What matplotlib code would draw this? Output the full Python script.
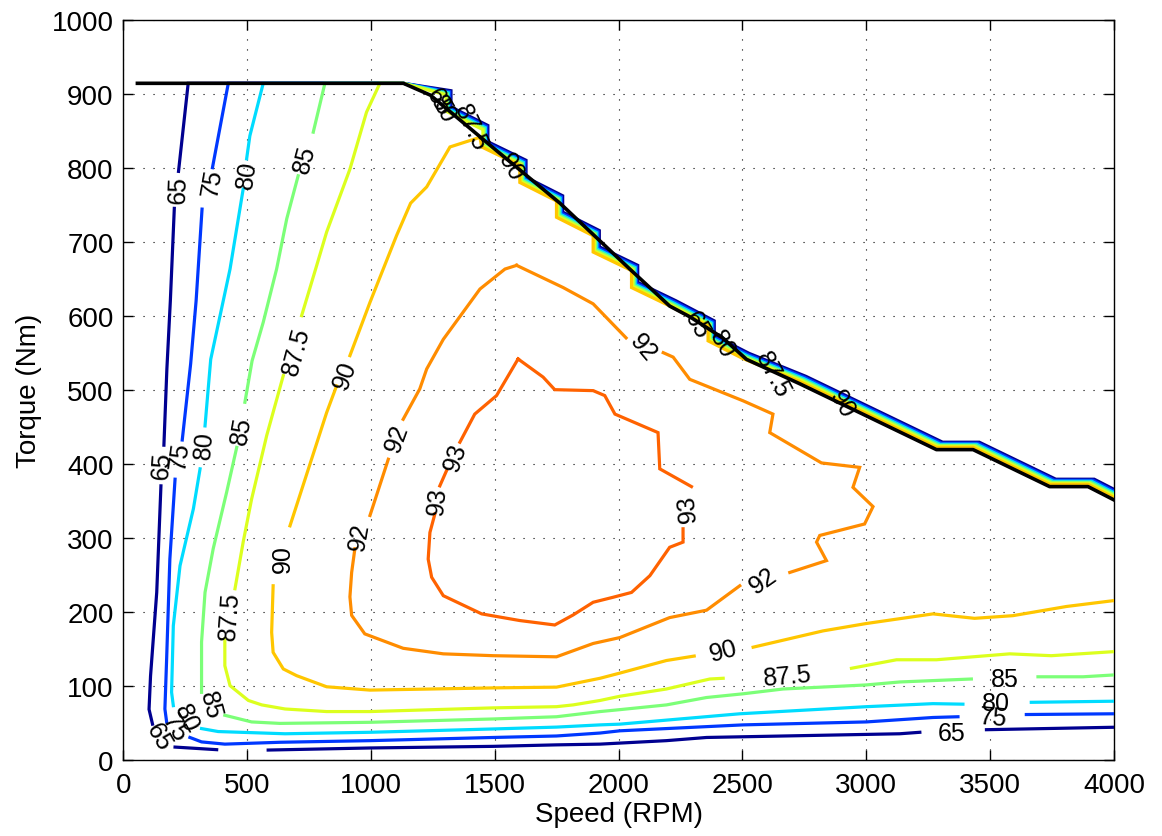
import numpy as np
import matplotlib
matplotlib.use("Agg")
import matplotlib.pyplot as plt

plt.rcParams['font.family'] = ['Liberation Sans', 'DejaVu Sans']

nan = np.nan

# ---- efficiency contour lines (speed in RPM, torque in Nm); nan = gap under a label ----
RPM_65 = [262, 223, nan, 206, 190, 176, 164, nan, 152, 135, 110, 104, 118, nan, 209, 377, nan,
          585, 996, 1494, 1749, 1925, 2193, 2355, 3135, 3216, nan, 3485, 4000]
NM_65 = [914, 795, nan, 745, 620, 528, 425, nan, 370, 226, 113, 68, 48, nan, 17, 13.5, nan,
         13, 15.8, 18, 20, 21, 25.7, 30, 35, 37, nan, 40.5, 43.8]

RPM_75 = [424, 360, nan, 318, 294, 272, 238, nan, 209, 188, 175, 168, 175, nan, 269, 316, 410,
          632, 996, 1494, 1749, 1925, 2005, 2502, 3000, 3269, 3370, nan, 3646, 4000]
NM_75 = [914, 800, nan, 744, 620, 535, 432, nan, 379, 271, 136, 68.5, 51, nan, 30, 24, 21,
         23.5, 25.7, 30, 32, 36, 39, 47, 51, 57, 58, nan, 61, 62]

RPM_80 = [565, 511, 498, nan, 484, 431, 353, 330, nan, 310, 283, 229, 202, 195, 202, nan,
          316, 383, 653, 996, 1494, 1749, 1925, 2005, 2489, 3000, 3269, 3390, nan, 3666, 4000]
NM_80 = [914, 843, 812, nan, 771, 663, 541, 451, nan, 393, 339, 262, 181, 91, 73, nan,
         42, 38, 35, 37, 41.5, 44, 47, 48, 62, 71.6, 75.7, 75, nan, 77.5, 79]

RPM_85 = [814, 767, nan, 706, 660, 619, 565, 520, 491, nan, 458, 417, 363, 330, 316, 316, nan,
          410, 518, 632, 996, 1494, 1749, 1925, 2005, 2193, 2355, 2502, 2664, 3000, 3135, 3424,
          nan, 3693, 3875, 4000]
NM_85 = [914, 848, nan, 789, 731, 663, 591, 539, 483, nan, 422, 361, 285, 226, 159, 91, nan,
         60, 51, 49, 50.5, 55, 58, 65, 67.6, 74, 84, 89, 95.5, 101, 105, 109,
         nan, 112, 112, 114.5]

RPM_875 = [1036, 982, 915, 821, 781, 720, nan, 646, 579, 518, 484, 451, nan, 410, 410, 431, 505,
           559, 653, 821, 996, 1494, 1749, 1816, 1925, 2005, 2193, 2368, 2422, nan,
           2940, 3122, 3283, 3579, 3747, 4000]
NM_875 = [914, 875, 798, 713, 668, 600, nan, 519, 438, 352, 294, 231, nan, 163, 127, 100, 80,
          74, 68.5, 65, 65, 70, 71.6, 74, 80, 85.7, 95.5, 109, 110, nan,
          123.5, 135, 135, 143, 140.5, 146]

RPM_90 = [1440, 1319, 1225, 1160, 1103, 996, 915, nan, 861, 821, 673, nan, 605, 599,
          605, 646, 700, 821, 996, 1494, 1749, 1925, 2005, 2193, 2305, nan, 2543, 2825, 3000,
          3269, 3437, 3592, 3808, 4000]
NM_90 = [841, 828, 774, 752, 708, 618, 546, nan, 505, 469, 316, nan, 235, 172,
         145, 122.6, 113.5, 98.5, 94, 97, 98, 110, 117, 134, 140, nan, 152, 174, 184,
         197, 191, 194.6, 207, 215]

RPM_92 = [1588, 1776, 1897, 2030, nan, 2180, 2220, 2287, 2502, 2623, 2610, 2819, 2973, 2946,
          3027, 2993, 2812, 2799, 2839, 2691, nan, 2489, 2355, 2206, 2005, 1897, 1749, 1494,
          1292, 1130, 975, 922, 915, 922, 935, nan, 996, 1070, nan, 1130, 1197, 1225, 1292,
          1440, 1541, 1588]
NM_92 = [668, 638, 616, 570, nan, 550, 544, 514, 485, 467, 442, 401, 395, 368,
         342, 318.5, 303, 294, 269, 253, nan, 235, 202, 192, 165, 157, 139, 140.5,
         143, 150.5, 170, 195, 220, 253, 285, nan, 330, 406, nan, 460, 501, 528, 568,
         636, 663, 668]

RPM_93 = [1594, 1695, 1742, 1897, 1944, 1985, 2159, 2166, 2294, nan, 2260, 2260, 2206, 2126,
          2052, 1978, 1897, 1816, 1742, 1601, 1447, 1292, 1245, 1231, 1238, 1258, nan, 1278,
          1305, nan, 1359, 1419, 1507, 1594]
NM_93 = [541.5, 517, 500, 498.7, 492, 467, 442, 393, 369, nan, 312, 294, 287, 248.6,
         226, 219.5, 212.7, 195.5, 182, 188, 197, 221.6, 246.5, 271, 307, 332, nan, 370,
         390.5, nan, 429, 467, 492, 541.5]

# stepped trace of the contours along the torque envelope (innermost, 90 % level)
EDGE_RPM = [1131, 1298, 1298, 1447, 1447, 1601, 1601, 1749, 1749, 1897, 1897, 2052, 2052,
            2207, 2361, 2361, 2502, 2731, 3283, 3431, 3740, 3895, 4000]
EDGE_NM = [914, 897, 875, 850, 828, 803, 780, 755, 733, 708, 686, 661, 638,
           613, 586, 566, 542, 511, 422, 422, 372, 372, 354]

# maximum torque envelope
MAXT_RPM = [57, 1131, 1240, 1500, 1763, 2045, 2206, 2290, 2420, 2516, 2731, 3283, 3431,
            3740, 3895, 4000]
MAXT_NM = [914, 914, 898, 825, 752, 663, 613, 598, 570, 541, 508, 419, 419, 369, 369, 351]

LEVELS = ['65', '75', '80', '85', '87.5', '90', '92', '93']
COLORS = ['#000090', '#0038FF', '#00DCFF', '#7CFF78', '#DCFF1E', '#FFC600', '#FF8C00', '#FF6200']

# contour labels: (text, rpm, Nm, rotation)
LABELS = [
    ('65', 221, 771, 88), ('75', 358, 780, 80), ('80', 499, 791, 82), ('85', 733, 812, 75),
    ('87.5', 697, 553, 75), ('90', 895, 520, 70),
    ('65', 157, 398, 86), ('75', 229, 412, 82), ('80', 326, 426, 85), ('85', 476, 446, 80),
    ('92', 1104, 435, 70), ('93', 1340, 409, 72), ('93', 1270, 351, 84), ('92', 952, 302, 80),
    ('90', 645, 272, 90), ('87.5', 431, 195, 86), ('93', 2280, 340, 95),
    ('92', 2100, 557, -50), ('92', 2585, 243, 35), ('90', 2425, 147, 15), ('87.5', 2680, 113, 5),
    ('85', 3559, 109, 0), ('80', 3525, 76, 0), ('75', 3511, 58, -5), ('65', 3345, 36, 0),
    ('85', 350, 75, -75), ('80', 252, 56, -65), ('75', 209, 44, -60), ('65', 142, 31, -60),
    ('65', 1272, 889, -60), ('80', 1290, 880, -60), ('87.5', 1400, 855, -65), ('90', 1566, 801, -60),
    ('65', 2316, 588, -60), ('80', 2417, 562, -60), ('87.5', 2623, 521, -62), ('90', 2902, 481, -60),
]

XTICKS = list(range(0, 4001, 500))
YTICKS = list(range(0, 1001, 100))

fig = plt.figure(figsize=(11.62, 8.37), dpi=100)
ax = fig.add_axes([0.1061, 0.0912, 0.8526, 0.8841])

lines = [(RPM_65, NM_65), (RPM_75, NM_75), (RPM_80, NM_80), (RPM_85, NM_85),
         (RPM_875, NM_875), (RPM_90, NM_90), (RPM_92, NM_92), (RPM_93, NM_93)]

edge_r = np.array(EDGE_RPM, dtype=float)
edge_t = np.array(EDGE_NM, dtype=float)
# the stacked envelope traces sit side by side, outermost level furthest out;
# each one runs back along the envelope into the start of its contour
n_edge = 6
for i, ((r, t), col) in enumerate(zip(lines, COLORS)):
    r = np.array(r, dtype=float)
    t = np.array(t, dtype=float)
    if i < n_edge:
        k = n_edge - 1 - i
        er = edge_r + 5.0 * k
        et = edge_t + 1.4 * k
        er[0], et[0] = edge_r[0], edge_t[0]
        if i == n_edge - 1:
            er, et = er[4:], et[4:]
        r = np.concatenate([er[::-1], r])
        t = np.concatenate([et[::-1], t])
    ax.plot(r, t, color=col, lw=2.3, solid_joinstyle='miter', zorder=3)

ax.plot(MAXT_RPM, MAXT_NM, color='k', lw=2.6, zorder=4)

for txt, x, y, rot in LABELS:
    ax.text(x, y, txt, fontsize=18, rotation=rot, rotation_mode='anchor',
            ha='center', va='center', zorder=5, color='k')

ax.set_xlim(0, 4000)
ax.set_ylim(0, 1000)
ax.set_xticks(XTICKS)
ax.set_yticks(YTICKS)
ax.tick_params(direction='in', length=7, width=1, labelsize=20, top=True, right=True)
ax.tick_params(axis='x', pad=9)
ax.tick_params(axis='y', pad=7)
ax.grid(True, color='k', linestyle=(0, (1, 8)), linewidth=0.8)
ax.set_axisbelow(True)
for s in ax.spines.values():
    s.set_linewidth(1.0)

ax.set_xlabel('Speed (RPM)', fontsize=20, labelpad=2)
ax.set_ylabel('Torque (Nm)', fontsize=20, labelpad=7)

fig.savefig('out.png', dpi=100)
